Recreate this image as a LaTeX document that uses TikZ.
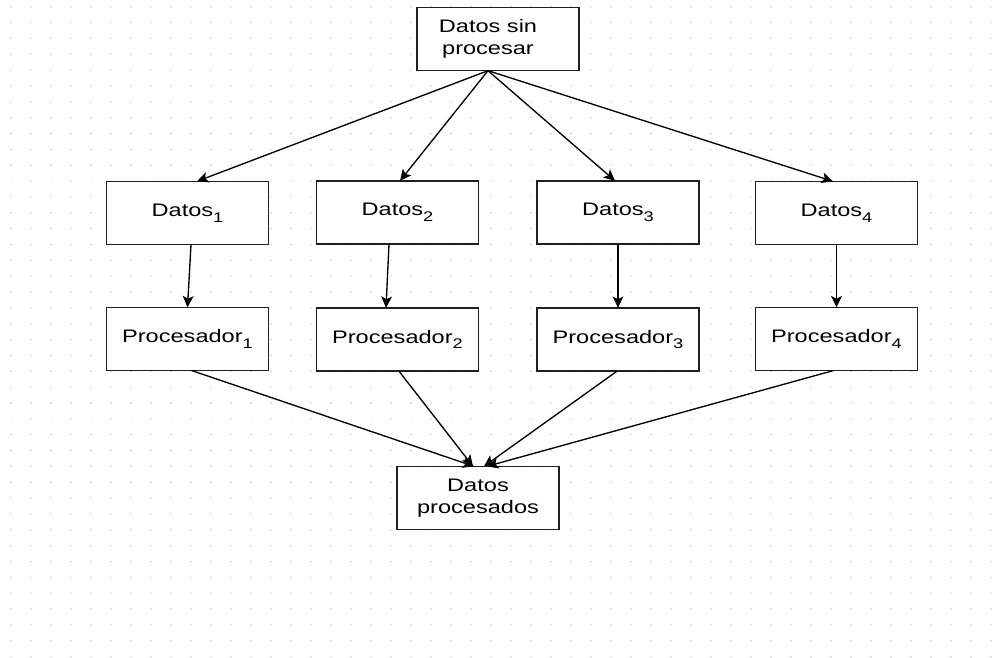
\documentclass[tikz,border=0pt]{standalone}
\usepackage{fontspec}
\setmainfont[FakeStretch=1.3]{Liberation Sans}
\usetikzlibrary{arrows.meta,calc}
% lowered index digit, set in the text font
\newcommand\idx[1]{\raisebox{-0.32em}{\fontsize{10.5pt}{10.5pt}\selectfont #1}}

\begin{document}
\begin{tikzpicture}[x=0.75pt,y=-0.75pt,
  box/.style={draw=black!88, line width=1.2pt, fill=white,
    minimum width=121.5pt, minimum height=47.5pt,
    inner sep=0pt, outer sep=0pt,
    font=\fontsize{13.6pt}{17pt}\selectfont},
  link/.style={line width=1pt, -{Stealth[length=8.5pt,width=8pt,inset=2pt]}},
  griddot/.style={fill=black!20},
]
\useasboundingbox (0,0) rectangle (1006,657);
\fill[white] (0,0) rectangle (1006,657);

% dotted background grid
\foreach \i in {0,...,49}{
  \foreach \j in {0,...,41}{
    \fill[griddot] (11+20*\i, 6.7+15.85*\j) circle[radius=0.8];
  }
}

% boxes
\node[box] (raw) at (498,39) {\begin{tabular}{@{}c@{}}Datos sin\\procesar\end{tabular}\kern15pt};

\node[box] (d1) at (187.5,213)   {Datos\idx{1}};
\node[box] (d2) at (397.5,212.5) {Datos\idx{2}};
\node[box] (d3) at (618,212.5)   {Datos\idx{3}};
\node[box] (d4) at (836.5,213)   {Datos\idx{4}};

\node[box] (p1) at (187.5,339)   {Procesador\idx{1}};
\node[box] (p2) at (397.5,339.5) {Procesador\idx{2}};
\node[box] (p3) at (618,339.5)   {Procesador\idx{3}};
\node[box] (p4) at (836.5,339)   {Procesador\idx{4}};

\node[box] (out) at (478,498) {\begin{tabular}{@{}c@{}}Datos\\procesados\end{tabular}};

% split of the raw data
\draw[link] ($(raw.south)+(-10,0)$) -- ($(d1.north)+(9.5,0)$);
\draw[link] ($(raw.south)+(-10,0)$) -- ($(d2.north)+(2.5,0)$);
\draw[link] ($(raw.south)+(-10,0)$) -- ($(d3.north)+(-3,0)$);
\draw[link] ($(raw.south)+(-10,0)$) -- ($(d4.north)+(-3.5,0)$);

% each part goes to its processor
\draw[link] ($(d1.south)+(3.5,0)$)  -- ($(p1.north)+(0,0)$);
\draw[link] ($(d2.south)+(-8.5,0)$) -- ($(p2.north)+(-11.5,0)$);
\draw[link] (d3.south) -- (p3.north);
\draw[link] (d4.south) -- (p4.north);

% results are gathered
\draw[link] ($(p1.south)+(4.5,0)$)  -- ($(out.north)+(-4,0)$);
\draw[link] ($(p2.south)+(1.5,0)$)  -- ($(out.north)+(-5,0)$);
\draw[link] ($(p3.south)+(-1,0)$)   -- ($(out.north)+(6,0)$);
\draw[link] ($(p4.south)+(-3.5,0)$) -- ($(out.north)+(9,0)$);
\end{tikzpicture}
\end{document}
